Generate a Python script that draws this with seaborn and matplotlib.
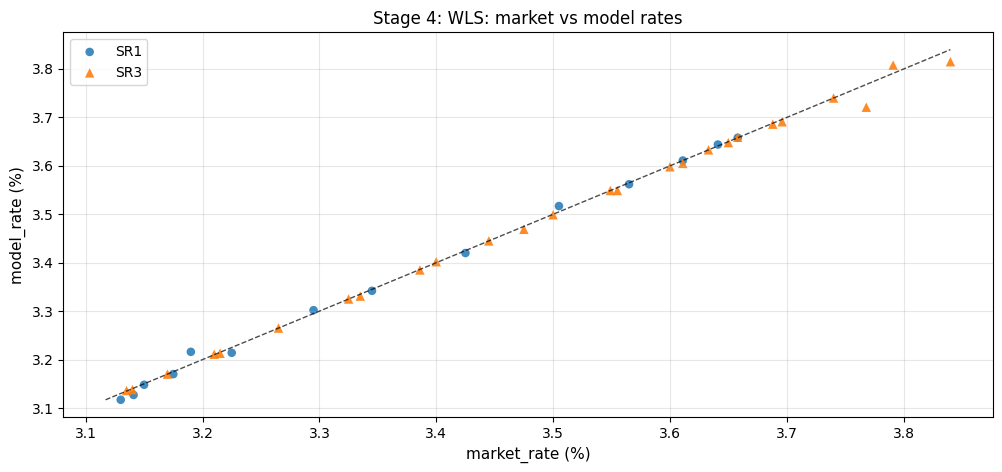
import matplotlib
matplotlib.use("Agg")
import matplotlib.pyplot as plt
import seaborn as sns
import pandas as pd
import numpy as np

sr1_market = [3.130, 3.141, 3.150, 3.175, 3.190, 3.225, 3.295, 3.345, 3.425, 3.505,
              3.565, 3.611, 3.641, 3.658]
sr1_model = [3.117, 3.127, 3.148, 3.170, 3.216, 3.214, 3.302, 3.342, 3.420, 3.517,
             3.562, 3.611, 3.644, 3.658]

sr3_market = [3.135, 3.140, 3.170, 3.210, 3.215, 3.265, 3.325, 3.335, 3.386, 3.400,
              3.445, 3.475, 3.500, 3.549, 3.555, 3.600, 3.611, 3.633, 3.650, 3.658,
              3.688, 3.696, 3.740, 3.768, 3.791, 3.840]
sr3_model = [3.136, 3.138, 3.170, 3.211, 3.213, 3.265, 3.325, 3.331, 3.385, 3.402,
             3.445, 3.469, 3.499, 3.549, 3.549, 3.598, 3.605, 3.633, 3.648, 3.659,
             3.686, 3.691, 3.740, 3.721, 3.808, 3.815]

title = "Stage 4: WLS: market vs model rates"
xlabel = "market_rate (%)"
ylabel = "model_rate (%)"

df1 = pd.DataFrame({"market": sr1_market, "model": sr1_model})
df3 = pd.DataFrame({"market": sr3_market, "model": sr3_model})

fig = plt.figure(figsize=(10.03, 4.72), dpi=100)
ax = fig.add_axes([0.0631, 0.1159, 0.9266, 0.8161])

sns.scatterplot(data=df1, x="market", y="model", ax=ax, marker="o", s=38,
                color="C0", alpha=0.85, edgecolor="none", label="SR1")
sns.scatterplot(data=df3, x="market", y="model", ax=ax, marker="^", s=46,
                color="C1", alpha=0.9, edgecolor="none", label="SR3")

allv = np.concatenate([sr1_market, sr1_model, sr3_market, sr3_model])
lo, hi = allv.min(), allv.max()
ax.plot([lo, hi], [lo, hi], linestyle="--", color="black", alpha=0.7, linewidth=1)

ax.grid(True, alpha=0.3)
ax.set_title(title, fontsize=12)
ax.set_xlabel(xlabel, fontsize=11)
ax.set_ylabel(ylabel, fontsize=11)
ax.legend(loc="upper left")

fig.savefig("out.png", dpi=100)
